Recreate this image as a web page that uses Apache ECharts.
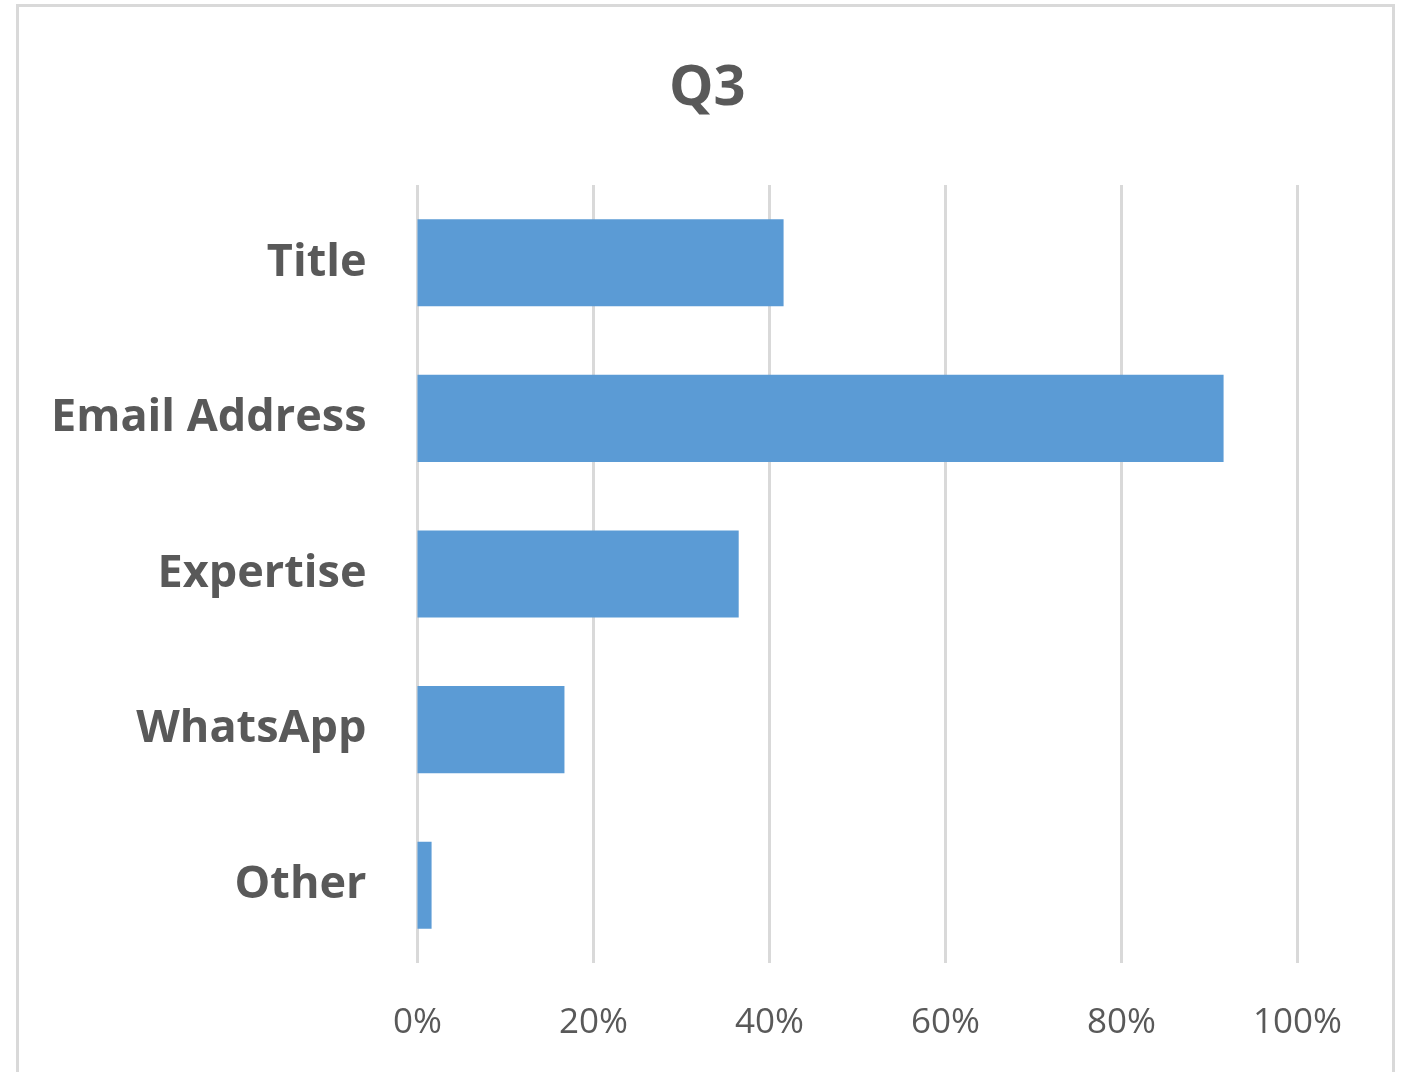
<!DOCTYPE html>
<html>
<head>
<meta charset="utf-8">
<script src="https://cdn.jsdelivr.net/npm/echarts@6/dist/echarts.min.js"></script>
<style>
  html, body { margin: 0; padding: 0; background: #fff; }
  #chart { width: 1404px; height: 1072px; }
</style>
</head>
<body>
<div id="chart"></div>
<script>
// categories top to bottom
const categories = ['Title', 'Email Address', 'Expertise', 'WhatsApp', 'Other']
const values = [41.6, 91.6, 36.5, 16.7, 1.6]
const tickMax = 100
const tickStep = 20

const chart = echarts.init(document.getElementById('chart'))

const option = {
  backgroundColor: '#fff',
  animation: false,
  graphic: [
    {
      type: 'rect',
      shape: { x: 17.5, y: 5.5, width: 1376, height: 1100 },
      style: { fill: 'none', stroke: '#d9d9d9', lineWidth: 3 },
      silent: true
    }
  ],
  title: {
    text: 'Q3',
    left: 664,
    top: 56,
    textStyle: {
      fontFamily: 'Open Sans',
      fontWeight: 'bold',
      fontSize: 56,
      color: '#595959'
    }
  },
  grid: {
    left: 417.5,
    right: 106.5,
    top: 185,
    bottom: 109,
    containLabel: false
  },
  xAxis: {
    type: 'value',
    min: 0,
    max: tickMax,
    interval: tickStep,
    axisLine: { show: false },
    axisTick: { show: false },
    splitLine: { lineStyle: { color: '#d9d9d9', width: 3 } },
    axisLabel: {
      formatter: '{value}%',
      margin: 43,
      fontFamily: 'Open Sans',
      fontSize: 35,
      color: '#595959'
    }
  },
  yAxis: {
    type: 'category',
    inverse: true,
    data: categories,
    axisLine: { show: false },
    axisTick: { show: false },
    axisLabel: {
      margin: 51,
      fontFamily: 'Open Sans',
      fontWeight: 'bold',
      fontSize: 45,
      color: '#595959',
      padding: [4, 0, 0, 0]
    }
  },
  series: [
    {
      type: 'bar',
      data: values,
      barCategoryGap: '44%',
      itemStyle: { color: '#5b9bd5' }
    }
  ]
}

chart.setOption(option)
</script>
</body>
</html>
